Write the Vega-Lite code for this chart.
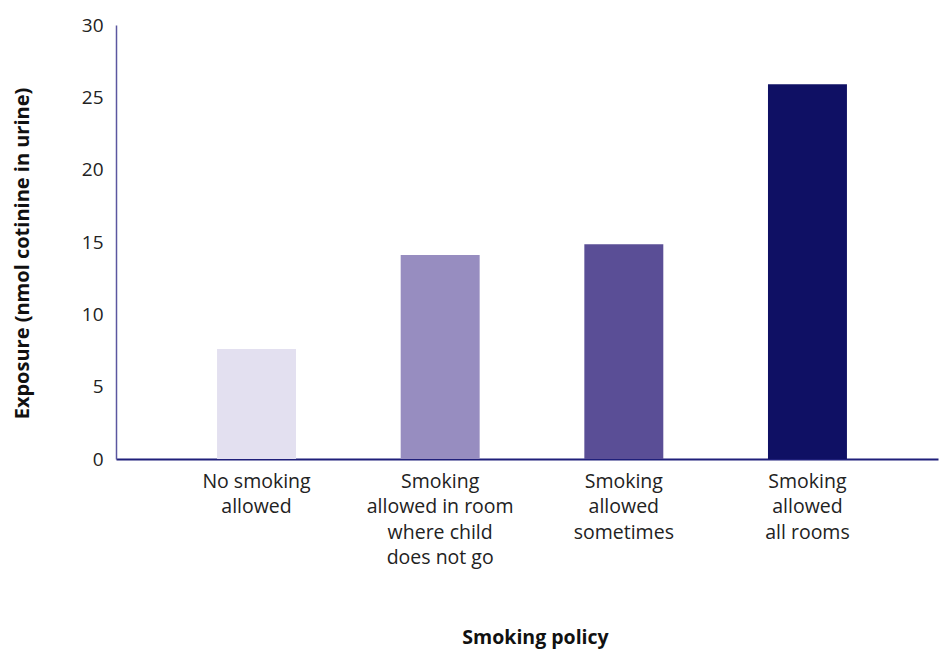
{
  "$schema": "https://vega.github.io/schema/vega-lite/v6.json",
  "width": 822,
  "height": 434,
  "autosize": {"type": "none"},
  "padding": {"left": 116, "top": 25, "right": 1, "bottom": 190},
  "background": "white",
  "config": {"view": {"stroke": null}, "font": "Open Sans"},
  "data": {
    "values": [
      {"policy": "No smoking|allowed", "exposure": 7.6, "order": 1},
      {"policy": "Smoking|allowed in room|where child|does not go", "exposure": 14.1, "order": 2},
      {"policy": "Smoking|allowed|sometimes", "exposure": 14.85, "order": 3},
      {"policy": "Smoking|allowed|all rooms", "exposure": 25.9, "order": 4}
    ]
  },
  "mark": {"type": "bar"},
  "encoding": {
    "x": {
      "field": "policy",
      "type": "nominal",
      "sort": {"field": "order"},
      "scale": {"paddingInner": 0.57, "paddingOuter": 0.523, "align": 0.526},
      "axis": {
        "title": "Smoking policy",
        "labelExpr": "split(datum.value, '|')",
        "labelAngle": 0,
        "labelFontSize": 19.5,
        "labelLineHeight": 25.5,
        "labelColor": "#222222",
        "labelPadding": 13,
        "labelFont": "Open Sans",
        "ticks": false,
        "domainColor": "#1f1f7a",
        "domainWidth": 2,
        "titleFont": "Open Sans",
        "titleFontSize": 19.5,
        "titleFontWeight": "bold",
        "titleColor": "#111111",
        "titleX": 419,
        "titleY": 178,
        "titleBaseline": "middle",
        "titleAlign": "center"
      }
    },
    "y": {
      "field": "exposure",
      "type": "quantitative",
      "scale": {"domain": [0, 30]},
      "axis": {
        "title": "Exposure (nmol cotinine in urine)",
        "values": [0, 5, 10, 15, 20, 25, 30],
        "grid": false,
        "ticks": false,
        "labelFontSize": 19,
        "labelColor": "#222222",
        "labelPadding": 13,
        "labelFont": "Open Sans",
        "domainColor": "#5b57a0",
        "domainWidth": 1.5,
        "titleFont": "Open Sans",
        "titleFontSize": 20,
        "titleFontWeight": "bold",
        "titleColor": "#111111",
        "titleX": -94,
        "titleY": 228,
        "titleAngle": 270,
        "titleBaseline": "middle",
        "titleAlign": "center"
      }
    },
    "color": {
      "field": "policy",
      "type": "nominal",
      "sort": {"field": "order"},
      "scale": {"range": ["#e3e0f0", "#978dc0", "#5a4e96", "#0f1064"]},
      "legend": null
    }
  }
}
